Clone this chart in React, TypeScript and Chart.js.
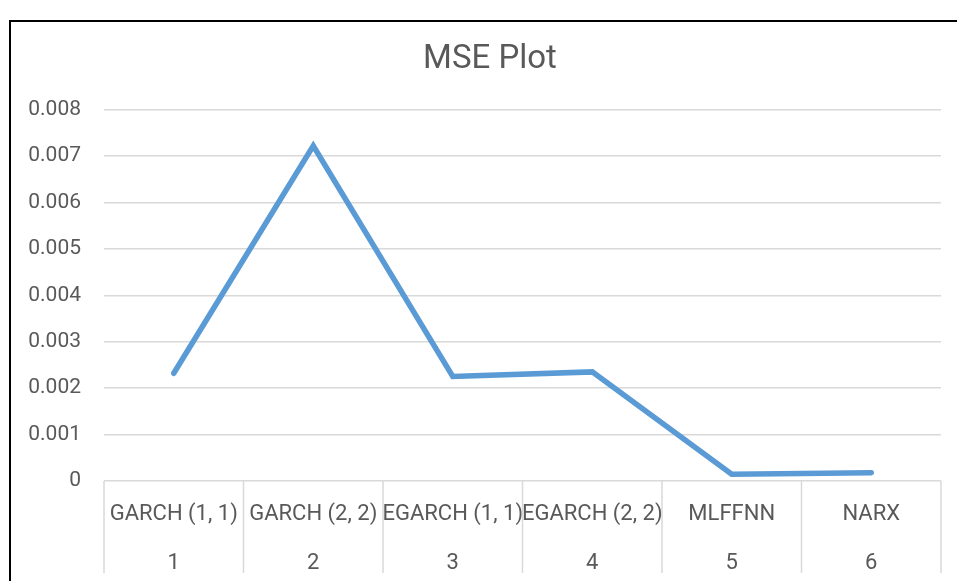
import React, { useEffect, useRef } from "react";
import { Chart, registerables } from "chart.js";

Chart.register(...registerables);

const categories = ["GARCH (1, 1)", "GARCH (2, 2)", "EGARCH (1, 1)", "EGARCH (2, 2)", "MLFFNN", "NARX"];
const indexLabels = ["1", "2", "3", "4", "5", "6"];
const mseValues = [0.00232, 0.00722, 0.00225, 0.00235, 0.000145, 0.00018];
const yMin = 0;
const yMax = 0.008;
const yStep = 0.001;

const FONT = "Roboto, 'Open Sans', sans-serif";
const TEXT = "#595959";
const GRID = "#d9d9d9";
const TITLE_CENTER = 490;

const separatorPlugin = {
  id: "categorySeparators",
  afterLayout(chart: any) {
    const tb = chart.titleBlock;
    if (tb) {
      tb.left = 2 * TITLE_CENTER - tb.right;
    }
  },
  afterDraw(chart: any) {
    const xs = chart.scales.x;
    const area = chart.chartArea;
    const n = categories.length;
    const half = (xs.getPixelForValue(1) - xs.getPixelForValue(0)) / 2;
    const ctx = chart.ctx;
    ctx.save();
    ctx.strokeStyle = GRID;
    ctx.lineWidth = 1.5;
    for (let i = 0; i <= n; i++) {
      const x = i < n ? xs.getPixelForValue(i) - half : xs.getPixelForValue(n - 1) + half;
      ctx.beginPath();
      ctx.moveTo(x, area.bottom);
      ctx.lineTo(x, area.bottom + 92);
      ctx.stroke();
    }
    ctx.restore();
  },
};

export default function App() {
  const ref = useRef<HTMLCanvasElement | null>(null);

  useEffect(() => {
    document.body.style.margin = "0";
    if (!ref.current) return;
    const chart = new Chart(ref.current, {
      type: "line",
      data: {
        labels: categories.map((c, i) => [c, indexLabels[i]]),
        datasets: [
          {
            label: "MSE",
            data: mseValues,
            borderColor: "#5b9bd5",
            backgroundColor: "#5b9bd5",
            borderWidth: 5.5,
            pointRadius: 0,
            tension: 0,
            borderCapStyle: "round",
            borderJoinStyle: "miter",
          },
        ],
      },
      options: {
        animation: false,
        responsive: false,
        layout: { padding: { left: 0, right: 16, top: 0, bottom: 0 } },
        plugins: {
          legend: { display: false },
          tooltip: { enabled: false },
          title: {
            display: true,
            text: "MSE Plot",
            color: TEXT,
            font: { family: FONT, size: 33, weight: "normal", lineHeight: 1.2 },
            padding: { top: 40, bottom: 30 },
          },
        },
        scales: {
          x: {
            offset: true,
            grid: { display: false },
            border: { display: false },
            ticks: {
              color: TEXT,
              font: { family: FONT, size: 22, lineHeight: 2.22 },
              padding: 1,
              maxRotation: 0,
              minRotation: 0,
              autoSkip: false,
            },
            afterFit: (s: any) => {
              s.height = 100;
            },
          },
          y: {
            min: yMin,
            max: yMax,
            grid: { color: GRID, lineWidth: 1.5, drawTicks: false },
            border: { display: false },
            ticks: {
              stepSize: yStep,
              color: TEXT,
              font: { family: FONT, size: 21 },
              padding: 23,
              callback: (v: any) => (Number(v) === 0 ? "0" : Number(v).toFixed(3)),
            },
            afterFit: (s: any) => {
              s.width = 104;
            },
          },
        },
      },
      plugins: [separatorPlugin],
    });
    return () => chart.destroy();
  }, []);

  return (
    <div style={{ position: "relative", width: 957, height: 581, overflow: "hidden", background: "#fff" }}>
      <canvas ref={ref} width={957} height={581} style={{ position: "absolute", left: 0, top: 0 }} />
      <div
        style={{
          position: "absolute",
          left: 9,
          top: 20,
          width: 1000,
          height: 700,
          borderLeft: "2px solid #000",
          borderTop: "2px solid #000",
          pointerEvents: "none",
        }}
      />
    </div>
  );
}
